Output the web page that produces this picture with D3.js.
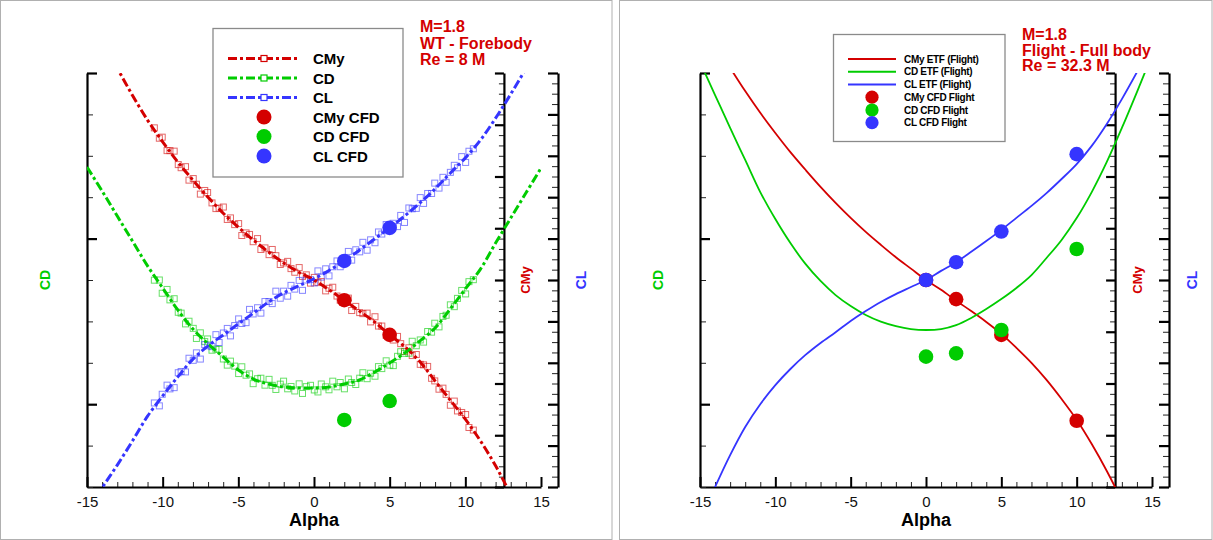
<!DOCTYPE html>
<html><head><meta charset="utf-8">
<script src="https://cdn.jsdelivr.net/npm/d3@7"></script>
<style>
body{margin:0;background:#fff;}
svg text{font-family:"Liberation Sans",Arial,Helvetica,sans-serif;}
</style></head><body>
<svg id="chart" width="1213" height="540"></svg>
<script>
// ---------- DATA ----------
const alphaTicks = [-15,-10,-5,0,5,10,15];
const fitAlpha = [-15,-14,-13,-12,-11,-10,-9,-8,-7,-6,-5,-4,-3,-2,-1,0,1,2,3,4,5,6,7,8,9,10,11,12,13,14,15];

// Wind tunnel fits (left panel)
const wtFitCMy = [0.0510,0.0458,0.0409,0.0357,0.0309,0.0267,0.0228,0.0193,0.0160,0.0129,0.0102,0.0077,0.0054,0.0033,0.0015,0.0000,-0.0019,-0.0039,-0.0060,-0.0081,-0.0106,-0.0129,-0.0158,-0.0195,-0.0232,-0.0269,-0.0311,-0.0359,-0.0415,-0.0475,-0.0540];
const wtFitCD = [0.4432,0.4287,0.4136,0.3986,0.3835,0.3702,0.3569,0.3454,0.3364,0.3285,0.3207,0.3152,0.3122,0.3104,0.3098,0.3098,0.3104,0.3122,0.3146,0.3194,0.3249,0.3309,0.3382,0.3460,0.3575,0.3696,0.3816,0.3973,0.4124,0.4275,0.4426];
const wtFitCL = [-0.560,-0.502,-0.447,-0.389,-0.329,-0.280,-0.234,-0.191,-0.159,-0.133,-0.106,-0.080,-0.053,-0.031,-0.014,0.003,0.023,0.046,0.072,0.099,0.126,0.155,0.186,0.220,0.258,0.295,0.338,0.391,0.449,0.510,0.570];

// Wind tunnel measured points (left panel)
const wtAlpha = [-10.55,-10.22,-10.03,-9.71,-9.52,-9.24,-8.97,-8.78,-8.49,-8.26,
-7.98,-7.77,-7.51,-7.22,-7.03,-6.74,-6.48,-6.27,-5.99,-5.73,
-5.52,-5.24,-4.98,-4.77,-4.49,-4.26,-4.02,-3.73,-3.51,-3.24,
-2.97,-2.76,-2.52,-2.23,-2.01,-1.74,-1.52,-1.27,-0.98,-0.76,
-0.51,-0.23,0.02,0.26,0.48,0.77,0.99,1.24,1.52,1.73,
2.01,2.27,2.49,2.76,3.02,3.23,3.51,3.74,4.03,4.26,
4.48,4.77,5.01,5.24,5.52,5.73,5.98,6.27,6.49,6.76,
7.02,7.24,7.51,7.77,7.98,8.26,8.52,8.73,9.01,9.27,
9.48,9.76,10.02,10.24,10.53];
const wtCMy = [0.0294,0.0274,0.0276,0.0250,0.0250,0.0249,0.0223,0.0217,0.0219,0.0193,
0.0196,0.0185,0.0166,0.0173,0.0169,0.0149,0.0138,0.0139,0.0141,0.0117,
0.0120,0.0107,0.0109,0.0086,0.0091,0.0088,0.0074,0.0080,0.0059,0.0062,
0.0049,0.0059,0.0047,0.0030,0.0033,0.0036,0.0022,0.0015,0.0024,0.0007,
0.0010,-0.0006,0.0005,-0.0005,-0.0003,-0.0021,-0.0016,-0.0014,-0.0031,-0.0039,
-0.0037,-0.0035,-0.0059,-0.0051,-0.0063,-0.0065,-0.0064,-0.0081,-0.0071,-0.0089,
-0.0089,-0.0107,-0.0104,-0.0116,-0.0109,-0.0123,-0.0138,-0.0131,-0.0146,-0.0144,
-0.0163,-0.0164,-0.0167,-0.0190,-0.0195,-0.0211,-0.0209,-0.0221,-0.0242,-0.0234,
-0.0253,-0.0256,-0.0260,-0.0285,-0.0290];
const wtCD = [0.3749,0.3750,0.3670,0.3693,0.3630,0.3637,0.3555,0.3550,0.3485,0.3501,
0.3458,0.3397,0.3431,0.3378,0.3394,0.3326,0.3333,0.3331,0.3273,0.3236,
0.3260,0.3230,0.3185,0.3226,0.3175,0.3183,0.3124,0.3154,0.3157,0.3115,
0.3150,0.3114,0.3089,0.3121,0.3139,0.3093,0.3107,0.3080,0.3123,0.3065,
0.3106,0.3114,0.3086,0.3074,0.3122,0.3105,0.3087,0.3139,0.3105,0.3131,
0.3093,0.3152,0.3131,0.3119,0.3157,0.3190,0.3154,0.3187,0.3169,0.3227,
0.3215,0.3262,0.3236,0.3233,0.3289,0.3317,0.3307,0.3308,0.3380,0.3353,
0.3388,0.3375,0.3439,0.3435,0.3489,0.3467,0.3530,0.3537,0.3600,0.3589,
0.3639,0.3687,0.3666,0.3740,0.3752];
const wtCL = [-0.297,-0.304,-0.276,-0.254,-0.263,-0.260,-0.224,-0.221,-0.222,-0.189,
-0.194,-0.176,-0.191,-0.156,-0.159,-0.161,-0.132,-0.151,-0.128,-0.117,
-0.135,-0.110,-0.094,-0.105,-0.103,-0.071,-0.082,-0.067,-0.080,-0.052,
-0.052,-0.057,-0.027,-0.044,-0.027,-0.039,-0.013,-0.022,-0.001,-0.025,
0.000,0.001,-0.007,0.022,0.007,0.027,0.010,0.032,0.046,0.032,
0.045,0.069,0.048,0.073,0.068,0.091,0.072,0.097,0.090,0.116,
0.111,0.134,0.119,0.137,0.129,0.156,0.139,0.174,0.172,0.173,
0.199,0.185,0.209,0.209,0.234,0.222,0.248,0.236,0.260,0.277,
0.271,0.298,0.284,0.311,0.317];

// CFD points, wind tunnel conditions (left panel)
const cfdAlphaWT = [2,5];
const cfdCMyWT = [-0.0039,-0.0106];
const cfdCDWT = [0.2905,0.3019];
const cfdCLWT = [0.046,0.126];

// Flight ETF curves (right panel)
const etfCMy = [0.0504,0.0456,0.0410,0.0365,0.0323,0.0284,0.0247,0.0213,0.0180,0.0149,0.0120,0.0093,0.0068,0.0044,0.0022,0,-0.0019,-0.0040,-0.0060,-0.0081,-0.0104,-0.0131,-0.0160,-0.0193,-0.0230,-0.0270,-0.0317,-0.0369,-0.0427,-0.0491,-0.0560];
const etfCD = [0.5066,0.4867,0.4668,0.4475,0.4281,0.4118,0.3973,0.3847,0.3744,0.3659,0.3593,0.3539,0.3499,0.3472,0.3454,0.3448,0.3454,0.3478,0.3521,0.3575,0.3635,0.3702,0.3780,0.3883,0.3992,0.4124,0.4281,0.4463,0.4668,0.4885,0.5109];
const etfCL = [-0.582,-0.500,-0.423,-0.355,-0.300,-0.254,-0.215,-0.181,-0.152,-0.126,-0.099,-0.075,-0.053,-0.034,-0.017,0,0.022,0.043,0.068,0.094,0.121,0.150,0.179,0.210,0.244,0.280,0.324,0.377,0.437,0.502,0.570];

// CFD points, flight conditions (right panel)
const cfdAlphaFlight = [0,2,5,10];
const cfdCMyFlight = [0,-0.0037,-0.0106,-0.0272];
const cfdCDFlight = [0.3287,0.3307,0.3448,0.3937];
const cfdCLFlight = [0,0.043,0.117,0.304];

const leftTitle = ["M=1.8","WT - Forebody","Re = 8 M"];
const rightTitle = ["M=1.8","Flight - Full body","Re = 32.3 M"];
const leftLegend = ["CMy","CD","CL","CMy CFD","CD CFD","CL CFD"];
const rightLegend = ["CMy ETF (Flight)","CD ETF (Flight)","CL ETF (Flight)","CMy CFD Flight","CD CFD Flight","CL CFD Flight"];

// ---------- STYLE ----------
const RED = "#d40000", GREEN = "#00cc00", BLUE = "#3535ff";
const svg = d3.select("#chart");

// panel frames
svg.append("rect").attr("x",0.5).attr("y",0.5).attr("width",611.5).attr("height",539)
  .attr("fill","none").attr("stroke","#b0b0b0");
svg.append("rect").attr("x",619.5).attr("y",0.5).attr("width",592.5).attr("height",539)
  .attr("fill","none").attr("stroke","#b0b0b0");

function zipPts(xs, ys){ return xs.map((a,i)=>[a,ys[i]]); }

function drawPanel(p){
  const g = svg.append("g");
  const top = 73, bot = 487;
  const x = d3.scaleLinear([-15,15],[p.x0,p.x1]);
  const yCD = d3.scaleLinear([0.25,0.5],[bot,top]);
  const yCMy = d3.scaleLinear([-0.04,0.04],[bot,top]);
  const yCL = d3.scaleLinear([-0.5,0.5],[bot,top]);
  const xCMyAxis = x(12.55), xCLAxis = p.x1 + 17;

  const clipId = "clip"+p.id;
  svg.append("clipPath").attr("id",clipId).append("rect")
    .attr("x",p.x0).attr("y",top).attr("width",p.x1-p.x0).attr("height",bot-top);

  // ----- axes -----
  const range = (a,b,s)=>d3.range(Math.round(a/s), Math.round(b/s)+1).map(k=>+(k*s).toFixed(5));
  function styleAxis(sel, w){
    sel.selectAll("path.domain").attr("stroke","#000").attr("stroke-width",2.2);
    sel.selectAll(".tick line").attr("stroke","#000").attr("stroke-width",w);
  }
  const gxm = g.append("g").attr("transform",`translate(0,${bot})`)
    .call(d3.axisBottom(x).tickValues(range(-15,15,1).filter(v=>v%5!==0)).tickSize(-5).tickFormat(""));
  gxm.select(".domain").remove();
  gxm.selectAll(".tick line").attr("stroke","#222").attr("stroke-width",1);
  const gx = g.append("g").attr("transform",`translate(0,${bot})`)
    .call(d3.axisBottom(x).tickValues(alphaTicks).tickSizeInner(-10).tickSizeOuter(0).tickPadding(9).tickFormat(d=>String(d)));
  styleAxis(gx,2);
  gx.selectAll("text").attr("font-size",15).attr("fill","#111").attr("font-family",'"Liberation Sans",Arial,sans-serif');

  const gcdm = g.append("g").attr("transform",`translate(${p.x0},0)`)
    .call(d3.axisRight(yCD).tickValues(range(0.25,0.5,0.025).filter(v=>Math.abs(v*10-Math.round(v*10))>1e-6)).tickSize(6).tickFormat(""));
  gcdm.select(".domain").remove();
  gcdm.selectAll(".tick line").attr("stroke","#222").attr("stroke-width",1);
  const gcd = g.append("g").attr("transform",`translate(${p.x0},0)`)
    .call(d3.axisRight(yCD).tickValues([0.3,0.4,0.5]).tickSizeInner(10).tickSizeOuter(0).tickFormat(""));
  styleAxis(gcd,2.2);

  const gcmm = g.append("g").attr("transform",`translate(${xCMyAxis},0)`)
    .call(d3.axisLeft(yCMy).tickValues(range(-0.04,0.04,0.002).filter(v=>Math.abs(v*100-Math.round(v*100))>1e-6)).tickSize(5).tickFormat(""));
  gcmm.select(".domain").remove();
  gcmm.selectAll(".tick line").attr("stroke","#222").attr("stroke-width",1);
  const gcm = g.append("g").attr("transform",`translate(${xCMyAxis},0)`)
    .call(d3.axisLeft(yCMy).tickValues(range(-0.04,0.04,0.01)).tickSizeInner(9).tickSizeOuter(0).tickFormat(""));
  styleAxis(gcm,2.2);

  const gclm = g.append("g").attr("transform",`translate(${xCLAxis},0)`)
    .call(d3.axisLeft(yCL).tickValues(range(-0.5,0.5,0.025).filter(v=>Math.abs(v*10-Math.round(v*10))>1e-6)).tickSize(6).tickFormat(""));
  gclm.select(".domain").remove();
  gclm.selectAll(".tick line").attr("stroke","#222").attr("stroke-width",1);
  const gcl = g.append("g").attr("transform",`translate(${xCLAxis},0)`)
    .call(d3.axisLeft(yCL).tickValues(range(-0.5,0.5,0.1)).tickSizeInner(10).tickSizeOuter(0).tickFormat(""));
  styleAxis(gcl,2.2);

  g.append("text").attr("x",(p.x0+p.x1)/2).attr("y",526).attr("text-anchor","middle")
    .attr("font-size",18).attr("font-weight","bold").attr("fill","#000").text("Alpha");
  const vt = (cx,txt,col,fs)=>g.append("text").attr("transform",`translate(${cx},280) rotate(-90)`)
    .attr("text-anchor","middle").attr("dominant-baseline","central")
    .attr("font-size",fs).attr("font-weight","bold").attr("fill",col).text(txt);
  vt(p.x0-42,"CD",GREEN,14);
  vt(xCMyAxis+22,"CMy",RED,13);
  vt(xCLAxis+23,"CL",BLUE,14);

  // ----- data -----
  const plot = g.append("g").attr("clip-path",`url(#${clipId})`);
  const line = (ys)=>d3.line().x(d=>x(d[0])).y(d=>ys(d[1])).curve(d3.curveCatmullRom.alpha(0.5));

  if (p.wt){
    const sq = (xs, vals, ys, col)=>{
      plot.append("g").selectAll("rect").data(zipPts(xs,vals)).join("rect")
        .attr("x",d=>x(d[0])-3).attr("y",d=>ys(d[1])-3).attr("width",6).attr("height",6)
        .attr("fill","none").attr("stroke",col).attr("stroke-opacity",0.6).attr("stroke-width",1);
    };
    sq(wtAlpha,wtCMy,yCMy,RED);
    sq(wtAlpha,wtCD,yCD,GREEN);
    sq(wtAlpha,wtCL,yCL,BLUE);
    const dl = (vals, ys, col)=>plot.append("path").datum(zipPts(fitAlpha,vals))
      .attr("d",line(ys)).attr("fill","none").attr("stroke",col).attr("stroke-width",3)
      .attr("stroke-dasharray","9,3,3,3");
    dl(wtFitCMy,yCMy,RED); dl(wtFitCD,yCD,GREEN); dl(wtFitCL,yCL,BLUE);
  } else {
    const sl = (vals, ys, col)=>plot.append("path").datum(zipPts(fitAlpha,vals))
      .attr("d",line(ys)).attr("fill","none").attr("stroke",col).attr("stroke-width",1.8);
    sl(etfCMy,yCMy,RED); sl(etfCD,yCD,GREEN); sl(etfCL,yCL,BLUE);
  }
  const dots = (xs, vals, ys, col)=>g.append("g").selectAll("circle").data(zipPts(xs,vals)).join("circle")
    .attr("cx",d=>x(d[0])).attr("cy",d=>ys(d[1])).attr("r",7.3).attr("fill",col);
  dots(p.cfdAlpha,p.cfdCMy,yCMy,RED);
  dots(p.cfdAlpha,p.cfdCD,yCD,GREEN);
  dots(p.cfdAlpha,p.cfdCL,yCL,BLUE);

  p.title.forEach((t,i)=>g.append("text").attr("x",p.tx).attr("y",p.ty+i*p.tdy)
    .attr("font-size",16).attr("font-weight","bold").attr("fill",RED).text(t));

  const L = p.legend;
  g.append("rect").attr("x",L.x).attr("y",L.y).attr("width",L.w).attr("height",L.h)
    .attr("fill","#fff").attr("stroke","#8a8a8a").attr("stroke-width",1.3);
  const cols = [RED,GREEN,BLUE];
  L.labels.forEach((lab,i)=>{
    const yy = L.rows[i], col = cols[i%3];
    if (i<3){
      const ln = g.append("line").attr("x1",L.lx0).attr("x2",L.lx1).attr("y1",yy).attr("y2",yy)
        .attr("stroke",col).attr("stroke-width",p.wt?3:2);
      if (p.wt){
        ln.attr("stroke-dasharray","9,3,3,3");
        const cx=(L.lx0+L.lx1)/2;
        g.append("rect").attr("x",cx-3).attr("y",yy-3).attr("width",6).attr("height",6)
          .attr("fill","#fff").attr("stroke",col).attr("stroke-width",1.2);
      }
    } else {
      g.append("circle").attr("cx",(L.lx0+L.lx1)/2).attr("cy",yy).attr("r",L.r).attr("fill",col);
    }
    g.append("text").attr("x",L.tx).attr("y",yy).attr("dominant-baseline","central")
      .attr("font-size",L.fs).attr("font-weight","bold").attr("letter-spacing",L.ls).attr("fill","#000").text(lab);
  });
}

drawPanel({id:"L", x0:87, x1:541, wt:true,
  cfdAlpha:cfdAlphaWT, cfdCMy:cfdCMyWT, cfdCD:cfdCDWT, cfdCL:cfdCLWT,
  title:leftTitle, tx:420, ty:32, tdy:16.5,
  legend:{x:213,y:28.5,w:190,h:148.5,labels:leftLegend,rows:[58.5,78,97.5,117,136.5,156],
    lx0:228,lx1:300,tx:313,fs:15,ls:0,r:7.5}});
drawPanel({id:"R", x0:700, x1:1152, wt:false,
  cfdAlpha:cfdAlphaFlight, cfdCMy:cfdCMyFlight, cfdCD:cfdCDFlight, cfdCL:cfdCLFlight,
  title:rightTitle, tx:1022, ty:40, tdy:15.5,
  legend:{x:833.5,y:34.5,w:171.5,h:107,labels:rightLegend,rows:[59,71.7,84.4,97.2,110,122.7],
    lx0:848,lx1:896,tx:904,fs:10,ls:-0.3,r:6.6}});
</script>
</body></html>
